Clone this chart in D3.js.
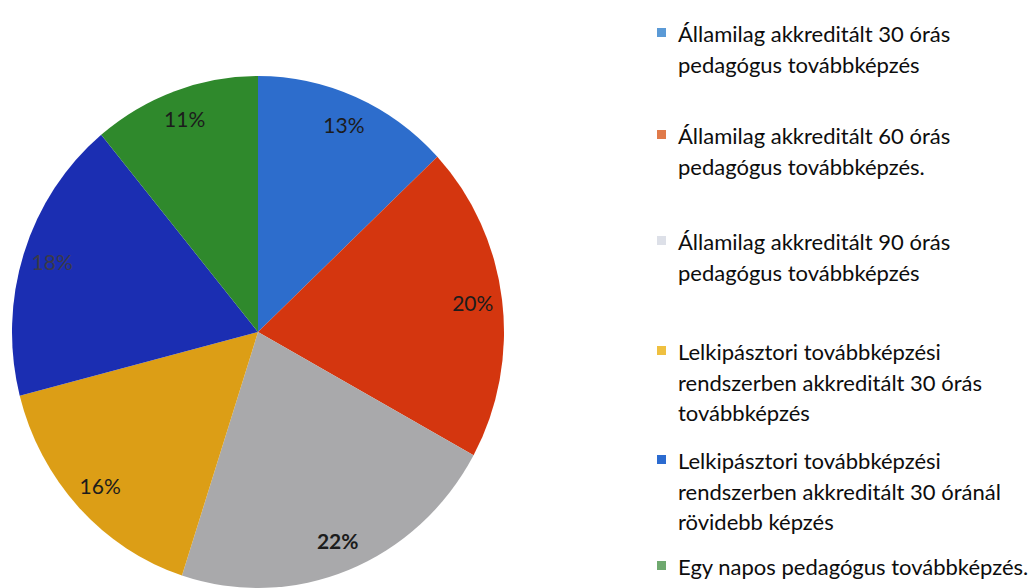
<!DOCTYPE html>
<html>
<head>
<meta charset="utf-8">
<script src="https://cdn.jsdelivr.net/npm/d3@7"></script>
<style>
  html, body { margin: 0; padding: 0; background: #ffffff; }
  svg { display: block; }
</style>
</head>
<body>
<svg id="chart" width="1034" height="588"></svg>
<script>
// Training types, each wrapped into the lines shown in the legend
const categoryLines = [
  ["Államilag akkreditált 30 órás", "pedagógus továbbképzés"],
  ["Államilag akkreditált 60 órás", "pedagógus továbbképzés."],
  ["Államilag akkreditált 90 órás", "pedagógus továbbképzés"],
  ["Lelkipásztori továbbképzési", "rendszerben akkreditált 30 órás", "továbbképzés"],
  ["Lelkipásztori továbbképzési", "rendszerben akkreditált 30 óránál", "rövidebb képzés"],
  ["Egy napos pedagógus továbbképzés."]
];
const categories = categoryLines.map(lines => lines.join(" "));

// Share of each training type, in percent
const values = [13, 20, 22, 16, 18, 11];
const valueLabels = values.map(v => v + "%");

// Slice fills and the matching legend swatches
const sliceColors  = ["#2d6dcc", "#d4360f", "#a9a9ab", "#dc9e16", "#1b2eb2", "#2f892c"];
const swatchColors = ["#5b9ad6", "#e07a4a", "#dde0e8", "#efc040", "#2b6bd0", "#6fa96f"];

const svg = d3.select("#chart");

// Pie geometry (slightly taller than wide)
const cx = 258, cy = 332, rx = 246, ry = 256;
const yScale = ry / rx;

const pie = d3.pie().sort(null).value(d => d);
const arcs = pie(values).map((a, i) => Object.assign(a, { index: i }));

const arc = d3.arc().innerRadius(0).outerRadius(rx);
const labelArc = d3.arc().innerRadius(rx * 0.88).outerRadius(rx * 0.88);

const color = d3.scaleOrdinal().domain(d3.range(values.length)).range(sliceColors);

const pieG = svg.append("g")
  .attr("transform", `translate(${cx},${cy}) scale(1,${yScale})`);

pieG.selectAll("path.slice")
  .data(arcs)
  .join("path")
  .attr("class", "slice")
  .attr("d", arc)
  .attr("fill", d => color(d.index));

// Percentage labels inside the slices
const labelG = svg.append("g").attr("transform", `translate(${cx},${cy})`);
labelG.selectAll("text")
  .data(arcs)
  .join("text")
  .attr("x", d => labelArc.centroid(d)[0])
  .attr("y", d => labelArc.centroid(d)[1] * yScale)
  .attr("dy", "0.35em")
  .attr("text-anchor", "middle")
  .attr("font-family", "Lato, 'Open Sans', sans-serif")
  .attr("font-size", 21)
  .attr("font-weight", d => d.index === 2 ? "bold" : "normal")
  .attr("fill", d => d.index === 4 ? "#3a3a4a" : "#1c1c1c")
  .text(d => valueLabels[d.index]);

// Legend
const legendX = 657, textX = 678, lineH = 30.5;
const itemBaselines = [42, 144, 250, 360, 469, 575];

const legend = svg.append("g")
  .attr("font-family", "Lato, 'Open Sans', sans-serif")
  .attr("font-size", 22)
  .attr("fill", "#0d0d0d");

const items = legend.selectAll("g.item")
  .data(categories.map((c, i) => ({ name: c, lines: categoryLines[i], i })))
  .join("g")
  .attr("class", "item");

items.append("rect")
  .attr("x", legendX)
  .attr("y", d => itemBaselines[d.i] - 14)
  .attr("width", 9)
  .attr("height", 9)
  .attr("fill", d => swatchColors[d.i]);

items.append("text")
  .attr("x", textX)
  .attr("y", d => itemBaselines[d.i])
  .selectAll("tspan")
  .data(d => d.lines)
  .join("tspan")
  .attr("x", textX)
  .attr("dy", (d, j) => j === 0 ? 0 : lineH)
  .text(d => d);
</script>
</body>
</html>
